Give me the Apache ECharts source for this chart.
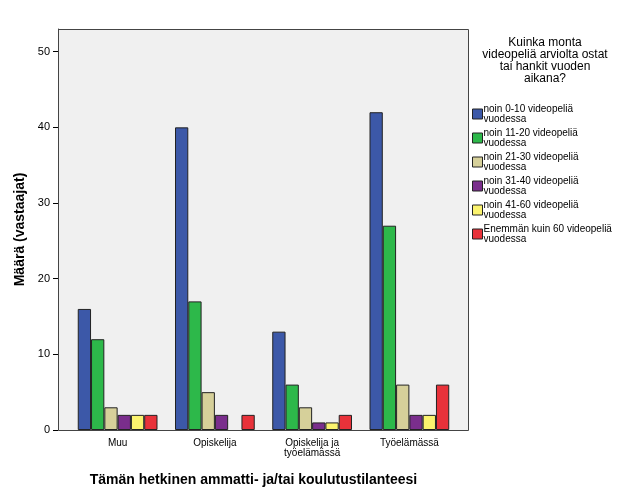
<!doctype html>
<html>
<head>
<meta charset="utf-8">
<script src="https://cdn.jsdelivr.net/npm/echarts@6/dist/echarts.min.js"></script>
<style>
  body { margin: 0; background: #fff; }
  #chart { width: 626px; height: 501px; }
</style>
</head>
<body>
<div id="chart"></div>
<script>
let categories = ['Muu', 'Opiskelija', 'Opiskelija ja\ntyöelämässä', 'Työelämässä'];
let seriesNames = ['noin 0-10 videopeliä\nvuodessa', 'noin 11-20 videopeliä\nvuodessa', 'noin 21-30 videopeliä\nvuodessa',
    'noin 31-40 videopeliä\nvuodessa', 'noin 41-60 videopeliä\nvuodessa', 'Enemmän kuin 60 videopeliä\nvuodessa'];
let s0_10 = [16, 40, 13, 42];
let s11_20 = [12, 17, 6, 27];
let s21_30 = [3, 5, 3, 6];
let s31_40 = [2, 2, 1, 2];
let s41_60 = [2, 0, 1, 2];
let s60plus = [2, 2, 2, 6];
let colors = ['#3c58a8', '#2db84a', '#d6d09a', '#7a2e8c', '#fbf36e', '#e8323a'];

let allData = [s0_10, s11_20, s21_30, s31_40, s41_60, s60plus];
let series = allData.map(function (d, i) {
    return {
        name: seriesNames[i],
        type: 'bar',
        data: d.map(function (v) { return v === 0 ? null : v; }),
        barGap: 0,
        barCategoryGap: '18%',
        itemStyle: { color: colors[i], borderColor: '#222', borderWidth: 1 }
    };
});

let myChart = echarts.init(document.getElementById('chart'));
myChart.setOption({
    animation: false,
    textStyle: { fontFamily: 'Arial, Liberation Sans, sans-serif' },
    color: colors,
    grid: { left: 69, top: 29, width: 389, height: 401 },
    graphic: [{
        type: 'rect', z: -10, silent: true,
        shape: { x: 58.5, y: 29.5, width: 410, height: 401 },
        style: { fill: '#f0f0f0', stroke: '#444', lineWidth: 1 }
    }, {
        type: 'text', x: 545, y: 37,
        style: { text: 'Kuinka monta\nvideopeliä arviolta ostat\ntai hankit vuoden\naikana?', textAlign: 'center', fill: '#000', font: '12px Arial, Liberation Sans, sans-serif', lineHeight: 12 }
    }],
    legend: {
        orient: 'vertical', left: 467, top: 99, itemWidth: 10, itemHeight: 10, itemGap: 4,
        textStyle: { fontSize: 10, lineHeight: 10, color: '#000', padding: [0, 0, 0, -4] },
        itemStyle: { borderColor: '#222', borderWidth: 1 },
        icon: 'rect'
    },
    xAxis: {
        type: 'category', data: categories,
        name: 'Tämän hetkinen ammatti- ja/tai koulutustilanteesi',
        nameLocation: 'middle', nameGap: 43,
        nameTextStyle: { fontSize: 14, fontWeight: 'bold', color: '#000', padding: [0, 0, 0, -20] },
        axisLine: { show: false },
        axisTick: { alignWithLabel: true, length: 6, lineStyle: { color: '#000' } },
        axisLabel: { color: '#000', fontSize: 10, lineHeight: 10, margin: 8, interval: 0 }
    },
    yAxis: {
        type: 'value', min: 0, max: 53, interval: 10, offset: 11,
        name: 'Määrä (vastaajat)', nameLocation: 'middle', nameGap: 30,
        nameTextStyle: { fontSize: 14, fontWeight: 'bold', color: '#000' },
        axisLine: { show: true, lineStyle: { color: '#444' } },
        axisTick: { show: true, length: 5, lineStyle: { color: '#000' } },
        axisLabel: { color: '#000', fontSize: 11, showMaxLabel: false },
        splitLine: { show: false }
    },
    series: series
});
</script>
</body>
</html>
